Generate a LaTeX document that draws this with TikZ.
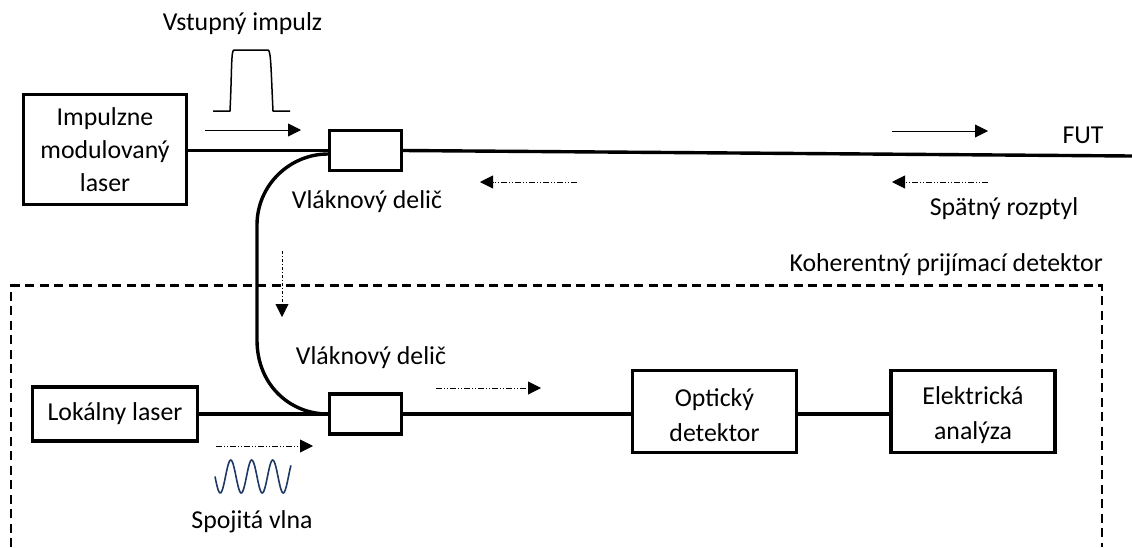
\documentclass[tikz,border=0pt]{standalone}
\usepackage{fontspec}
\setmainfont{Carlito}
\usetikzlibrary{arrows.meta}
\definecolor{wavec}{HTML}{1F3864}
\tikzset{
  x=1pt,y=-1pt,
  box/.style={draw,line width=3.4pt,inner sep=0,align=center,font=\fontsize{25.8}{32}\selectfont},
  lbl/.style={inner sep=0,font=\fontsize{25.8}{32}\selectfont},
  fib/.style={line width=3.4pt},
  flow/.style={line width=.9pt,-{Triangle[length=13pt,width=13pt]}},
  flowd/.style={flow,dash pattern=on 6pt off 2pt on 1pt off 2pt on 1pt off 2pt},
  frame/.style={line width=2.2pt,dash pattern=on 9pt off 5.5pt},
}
\begin{document}
\begin{tikzpicture}
\useasboundingbox (0,0) rectangle (1132,547);
\draw[frame] (11,547) -- (11,285.5) -- (1102,285.5) -- (1102,547);
\node[box,minimum width=163pt,minimum height=110pt] (ml) at (105,149.5) {Impulzne\\[1pt]modulovaný\\[1pt]laser};
\node[box,minimum width=72pt,minimum height=40pt] (s1) at (365.5,150.5) {};
\node[box,minimum width=165pt,minimum height=54pt] (ll) at (115,414) {Lokálny laser};
\node[box,minimum width=72pt,minimum height=40pt] (s2) at (365.5,414) {};
\node[box,minimum width=164pt,minimum height=82pt] (od) at (714.5,411.5) {\rule{0pt}{25pt}Optický\\[3pt]detektor};
\node[box,minimum width=164pt,minimum height=82pt] (ea) at (973,411.5) {\rule{0pt}{25pt}Elektrická\\[3pt]analýza};
\coordinate (fut) at (1132,156);
\draw[fib] (ml.east |- s1.west) -- (s1.west);
\draw[fib] (s1.east) -- (fut);
\draw[fib] (ll.east) -- (s2.west);
\draw[fib] (s2.east) -- (od.west |- s2.east);
\draw[fib] (od.east |- s2.east) -- (ea.west |- s2.east);
\draw[fib] (s1.west |- 0,154) .. controls (290,154) and (257,185) .. (257,225) -- (257,340) .. controls (257,385) and (290,414) .. (s2.west);
\coordinate (a1s) at (205,130); \coordinate (a1e) at (301,130);
\draw[flow] (a1s) -- (a1e);
\coordinate (a2s) at (892,131); \coordinate (a2e) at (988,131);
\draw[flow] (a2s) -- (a2e);
\coordinate (a3s) at (577,182); \coordinate (a3e) at (480,182);
\draw[flowd] (a3s) -- (a3e);
\coordinate (a4s) at (988,182); \coordinate (a4e) at (892,182);
\draw[flowd] (a4s) -- (a4e);
\coordinate (a5s) at (282,251); \coordinate (a5e) at (282,317);
\draw[flow,dash pattern=on 3pt off 2pt on 1pt off 2pt] (a5s) -- (a5e);
\coordinate (a6s) at (436,388); \coordinate (a6e) at (541,388);
\draw[flowd] (a6s) -- (a6e);
\coordinate (a7s) at (216,446); \coordinate (a7e) at (313,446);
\draw[flowd] (a7s) -- (a7e);
\draw[line width=1.5pt,line join=round] (213,111) -- (230,111) .. controls (232,70) and (231,50) .. (234,50) -- (268,50) .. controls (271,50) and (271,70) .. (273,111) -- (290,111);
\draw[line width=1.6pt,color=wavec] plot[smooth,domain=0:1,samples=80] ({215+76*\x},{476.5+16.5*sin(360*3.62*\x)});
\node[lbl] (t1) at (242.5,24) {Vstupný impulz};
\node[lbl] (t2) at (367,202) {Vláknový delič};
\node[lbl] (t3) at (1083,135) {FUT};
\node[lbl] (t4) at (1004,209) {Spätný rozptyl};
\node[lbl] (t5) at (371,358) {Vláknový delič};
\node[lbl] (t6) at (252,522) {Spojitá vlna};
\node[lbl,anchor=east] (t7) at (1103,265) {Koherentný prijímací detektor};
\end{tikzpicture}
\end{document}
